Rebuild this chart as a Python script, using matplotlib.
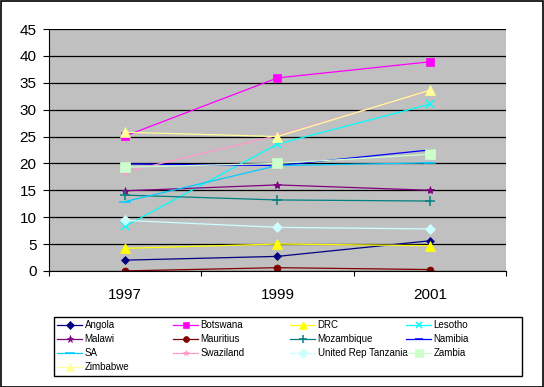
import matplotlib
matplotlib.use('Agg')
import matplotlib.pyplot as plt

# ── Data ──
YEARS = ["1997", "1999", "2001"]

COUNTRIES = ["Angola", "Botswana", "DRC", "Lesotho", "Malawi", "Mauritius",
             "Mozambique", "Namibia", "SA", "Swaziland", "United Rep Tanzania",
             "Zambia", "Zimbabwe"]

angola = [2.0, 2.7, 5.6]
botswana = [25.1, 35.9, 38.9]
drc = [4.2, 5.0, 4.7]
lesotho = [8.3, 23.6, 31.0]
malawi = [14.9, 16.0, 15.0]
mauritius = [0.0, 0.6, 0.25]
mozambique = [14.1, 13.2, 13.0]
namibia = [19.9, 19.6, 22.5]
sa = [12.9, 19.6, 20.1]
swaziland = [18.4, 25.2, 33.5]
tanzania = [9.4, 8.1, 7.8]
zambia = [19.3, 20.0, 21.7]
zimbabwe = [25.8, 25.0, 33.6]

SERIES = [angola, botswana, drc, lesotho, malawi, mauritius, mozambique,
          namibia, sa, swaziland, tanzania, zambia, zimbabwe]

# ── Style ──
COLORS = ['#000080', '#FF00FF', '#FFFF00', '#00FFFF', '#800080', '#800000',
          '#008080', '#0000FF', '#00CCFF', '#FF99CC', '#CCFFFF', '#CCFFCC',
          '#FFFF99']
MARKERS = ['D', 's', '^', 'x', '*', 'o', '+', '_', '_', '*', 'D', 's', '^']
MSIZES = [4.5, 5.5, 6.5, 5.5, 6, 5, 6.5, 6, 8, 5, 5.5, 6.5, 6.5]

plt.rcParams['font.family'] = ['Liberation Sans', 'DejaVu Sans']

fig = plt.figure(figsize=(5.44, 3.87), dpi=100)
fig.patch.set_facecolor('white')
fig.patches.append(plt.Rectangle((0.001, 0.001), 0.997, 0.997, transform=fig.transFigure,
                                 fill=False, edgecolor='black', linewidth=1.2))

ax = fig.add_axes([0.090, 0.300, 0.840, 0.625])
ax.set_facecolor('#C0C0C0')

xs = [i + 0.5 for i in range(len(YEARS))]
handles = []
for name, vals, c, m, ms in zip(COUNTRIES, SERIES, COLORS, MARKERS, MSIZES):
    h, = ax.plot(xs, vals, color=c, marker=m, markersize=ms, linewidth=0.9,
                 markeredgewidth=1.1 if m in ('x', '+', '_') else 0.5,
                 markeredgecolor=c, label=name)
    handles.append(h)

ax.set_xlim(0, 3)
ax.set_ylim(0, 45)
ax.set_yticks(range(0, 46, 5))
ax.yaxis.grid(True, color='black', linewidth=0.9)
ax.set_axisbelow(True)
ax.set_xticks([0, 1, 2, 3])
ax.set_xticklabels([])
ax.set_xticks(xs, minor=True)
ax.set_xticklabels(YEARS, minor=True)
ax.tick_params(axis='x', which='minor', length=0, pad=12, labelsize=11)
ax.tick_params(axis='x', which='major', length=3.5, direction='out')
ax.tick_params(axis='y', length=4, direction='out', labelsize=11, pad=5)

for s in ['top', 'right']:
    ax.spines[s].set_visible(False)

# Excel-style legend: 4 evenly spaced columns, filled row by row
W, H = fig.get_size_inches() * fig.dpi
fig.patches.append(plt.Rectangle((54 / W, 1 - 376 / H), 468 / W, 59 / H,
                                 transform=fig.transFigure, fill=False,
                                 edgecolor='black', linewidth=1))
col_x = [57, 173, 290, 406]
for j, x in enumerate(col_x):
    idx = list(range(j, len(COUNTRIES), 4))
    fig.legend([handles[i] for i in idx], [COUNTRIES[i] for i in idx],
               loc='upper left', bbox_to_anchor=(x / W, 1 - 320.5 / H),
               frameon=False, fontsize=7, borderpad=0, borderaxespad=0,
               handlelength=2.6, handletextpad=0.25, labelspacing=0.4,
               markerscale=0.85)

fig.savefig('out.png', dpi=100)
